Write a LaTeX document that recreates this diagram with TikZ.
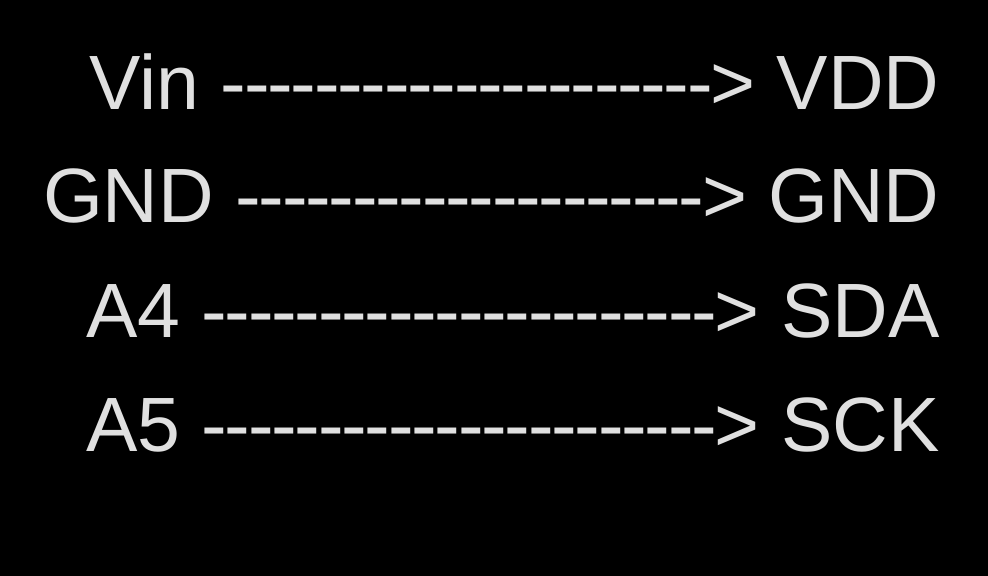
\documentclass[tikz,border=0pt]{standalone}
\usepackage{fontspec}
\setmainfont{Liberation Sans}[Ligatures=TeXOff]
\definecolor{pintext}{HTML}{E0E0E0}
\newcommand{\pinrun}[1]{{\addfontfeature{LetterSpace=-3}#1}}
\begin{document}
\begin{tikzpicture}[x=0.5pt, y=-0.5pt,
  pinline/.style={anchor=base east, inner sep=0pt, text=pintext,
    font=\fontsize{38.5}{40}\selectfont}]
  \fill[black] (0,0) rectangle (988,576);
  \node[pinline] (vin) at (940,110) {Vin \pinrun{--------------------->} VDD};
  \node[pinline] (gnd) at (940,223) {GND \pinrun{-------------------->} GND};
  \node[pinline] (sda) at (940,338) {A4 \pinrun{---------------------->} SDA};
  \node[pinline] (sck) at (940,451) {A5 \pinrun{---------------------->} SCK};
\end{tikzpicture}
\end{document}
